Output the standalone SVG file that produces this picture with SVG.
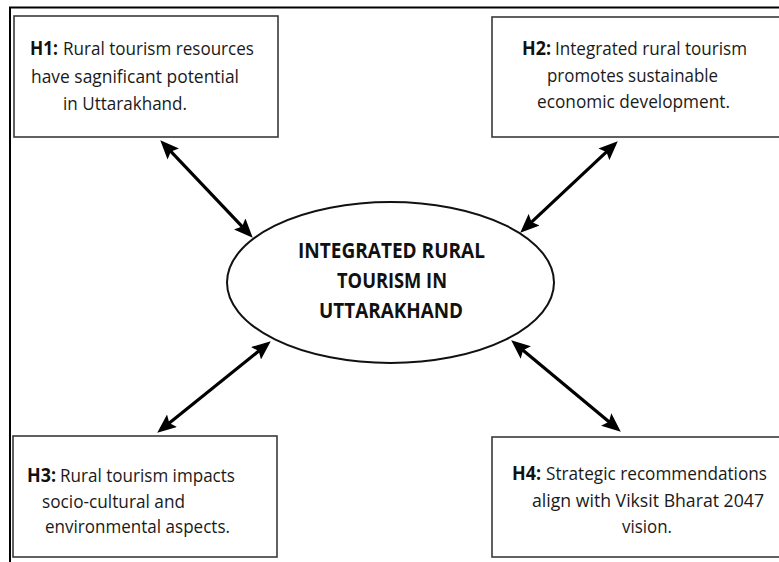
<svg xmlns="http://www.w3.org/2000/svg" width="779" height="562" viewBox="0 0 779 562">
<style>
.box{fill:#fff;stroke:#3a3a3a;stroke-width:1.6}
.t{font-family:"Open Sans","Liberation Sans",sans-serif;font-size:19px;fill:#1a1a1a}
.b{font-weight:bold;fill:#111}
.c{font-family:"Open Sans","Liberation Sans",sans-serif;font-size:22px;font-weight:bold;fill:#111;text-anchor:middle}
.con{stroke:#000;stroke-width:3.2;fill:none;marker-start:url(#ah);marker-end:url(#ah)}
</style>
<defs>
<marker id="ah" markerUnits="userSpaceOnUse" viewBox="0 0 19 16" markerWidth="19" markerHeight="16" refX="13" refY="8" orient="auto-start-reverse">
<path d="M0,0 L19,8 L0,16 L3.5,8 Z" fill="#000"/>
</marker>
</defs>
<rect width="779" height="562" fill="#fff"/>
<path d="M10,562 V7.5 H779" fill="none" stroke="#000" stroke-width="2"/>
<g id="h1">
<rect class="box" x="14" y="16" width="264" height="121"/>
<text class="t b" x="30" y="55" textLength="28" lengthAdjust="spacingAndGlyphs">H1:</text>
<text class="t" x="63" y="55" textLength="191" lengthAdjust="spacingAndGlyphs">Rural tourism resources</text>
<text class="t" x="31" y="83" textLength="208" lengthAdjust="spacingAndGlyphs">have sagnificant potential</text>
<text class="t" x="63" y="110" textLength="124" lengthAdjust="spacingAndGlyphs">in Uttarakhand.</text>
</g>
<g id="h2">
<rect class="box" x="492" y="17" width="300" height="120"/>
<text class="t b" x="522" y="55" textLength="29" lengthAdjust="spacingAndGlyphs">H2:</text>
<text class="t" x="555" y="55" textLength="192" lengthAdjust="spacingAndGlyphs">Integrated rural tourism</text>
<text class="t" x="547" y="82" textLength="171" lengthAdjust="spacingAndGlyphs">promotes sustainable</text>
<text class="t" x="537" y="108" textLength="193" lengthAdjust="spacingAndGlyphs">economic development.</text>
</g>
<g id="h3">
<rect class="box" x="13" y="436" width="264" height="121"/>
<text class="t b" x="27" y="482" textLength="29" lengthAdjust="spacingAndGlyphs">H3:</text>
<text class="t" x="60" y="482" textLength="175" lengthAdjust="spacingAndGlyphs">Rural tourism impacts</text>
<text class="t" x="42" y="508" textLength="143" lengthAdjust="spacingAndGlyphs">socio-cultural and</text>
<text class="t" x="45" y="533" textLength="185" lengthAdjust="spacingAndGlyphs">environmental aspects.</text>
</g>
<g id="h4">
<rect class="box" x="492" y="437" width="300" height="120"/>
<text class="t b" x="512" y="480" textLength="29" lengthAdjust="spacingAndGlyphs">H4:</text>
<text class="t" x="546" y="480" textLength="221" lengthAdjust="spacingAndGlyphs">Strategic recommendations</text>
<text class="t" x="532" y="507" textLength="232" lengthAdjust="spacingAndGlyphs">align with Viksit Bharat 2047</text>
<text class="t" x="622" y="533" textLength="50" lengthAdjust="spacingAndGlyphs">vision.</text>
</g>
<g id="center">
<ellipse cx="390.5" cy="282.5" rx="163.5" ry="80.5" fill="#fff" stroke="#111" stroke-width="2"/>
<text class="c" x="391.5" y="258" textLength="187" lengthAdjust="spacingAndGlyphs">INTEGRATED RURAL</text>
<text class="c" x="392" y="288" textLength="110" lengthAdjust="spacingAndGlyphs">TOURISM IN</text>
<text class="c" x="391" y="318" textLength="144" lengthAdjust="spacingAndGlyphs">UTTARAKHAND</text>
</g>
<g id="connectors">
<line class="con" x1="164.4" y1="144.6" x2="248.6" y2="233.4"/>
<line class="con" x1="613.4" y1="145.4" x2="524.6" y2="228.6"/>
<line class="con" x1="266.1" y1="345.1" x2="161.9" y2="428.9"/>
<line class="con" x1="515.8" y1="344.2" x2="616.2" y2="427.8"/>
</g>
</svg>
